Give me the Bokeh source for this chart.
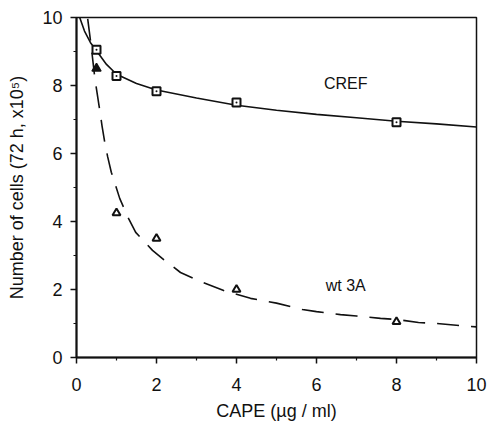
from bokeh.plotting import figure
from bokeh.models import Range1d, FixedTicker, Label
from bokeh.embed import file_html
from bokeh.resources import INLINE

# Measured points
cref_x = [0.5, 1, 2, 4, 8]
cref_y = [9.05, 8.28, 7.83, 7.5, 6.92]
wt_x = [0.5, 1, 2, 4, 8]
wt_y = [8.5, 4.25, 3.5, 2.0, 1.05]

# Fitted curves
cref_fit_x = [0.08, 0.2, 0.35, 0.5, 0.75, 1.0, 1.5, 2.0, 3.0, 4.0, 5.0, 6.0, 7.0, 8.0, 9.0, 10.0]
cref_fit_y = [10.0, 9.6, 9.26, 9.02, 8.62, 8.33, 8.06, 7.87, 7.63, 7.42, 7.27, 7.15, 7.05, 6.95, 6.87, 6.78]
wt_fit_x = [0.28, 0.37, 0.46, 0.57, 0.64, 0.71, 0.78, 0.87, 0.98, 1.08, 1.3, 1.48, 1.9, 2.18, 2.6,
            3.05, 3.68, 4.0, 4.35, 5.0, 5.65, 6.0, 6.6, 7.0, 7.6, 8.0, 8.55, 9.0, 9.68, 10.0]
wt_fit_y = [9.96, 9.13, 8.2, 7.36, 6.8, 6.3, 5.9, 5.45, 5.05, 4.68, 4.09, 3.68, 3.15, 2.88, 2.5,
            2.26, 1.97, 1.86, 1.74, 1.6, 1.41, 1.35, 1.26, 1.22, 1.15, 1.12, 1.03, 1.0, 0.93, 0.9]

x_ticks = [0, 2, 4, 6, 8, 10]
y_ticks = [0, 2, 4, 6, 8, 10]

FONT = "Liberation Sans"
INK = "#111111"

p = figure(width=488, height=423, output_backend="svg", toolbar_location=None,
           x_range=Range1d(0, 10), y_range=Range1d(0, 10),
           min_border_left=76, min_border_right=12, min_border_top=17, min_border_bottom=66)
p.grid.visible = False
p.outline_line_color = INK
p.outline_line_width = 1.5
p.background_fill_color = "white"
p.border_fill_color = "white"

for ax, ticks in ((p.xaxis[0], x_ticks), (p.yaxis[0], y_ticks)):
    ax.ticker = FixedTicker(ticks=ticks, minor_ticks=[1, 3, 5, 7, 9])
    ax.axis_line_color = INK
    ax.axis_line_width = 2
    ax.major_tick_line_color = INK
    ax.minor_tick_line_color = INK
    ax.major_tick_line_width = 1.5
    ax.minor_tick_line_width = 1.2
    ax.major_tick_out = 6
    ax.major_tick_in = 0
    ax.minor_tick_out = 3
    ax.minor_tick_in = 0
    ax.major_label_text_font = FONT
    ax.major_label_text_font_size = "18px"
    ax.major_label_text_color = INK
    ax.axis_label_text_font = FONT
    ax.axis_label_text_font_size = "18px"
    ax.axis_label_text_font_style = "normal"
    ax.axis_label_text_color = INK

p.xaxis.axis_label = "CAPE (µg / ml)"
p.xaxis.major_label_standoff = 14
p.xaxis.axis_label_standoff = 7
p.yaxis.axis_label = "Number of cells (72 h, x10⁵)"
p.yaxis.major_label_standoff = 8
p.yaxis.axis_label_standoff = 12

# fitted curves
p.line(cref_fit_x, cref_fit_y, line_color=INK, line_width=1.6)
p.line(wt_fit_x, wt_fit_y, line_color=INK, line_width=1.6, line_dash="22 12")

# data points
p.scatter(cref_x, cref_y, marker="square_dot", size=8, line_color=INK, line_width=2,
          fill_color="white")
p.scatter(wt_x[1:], wt_y[1:], marker="triangle", size=8, line_color=INK, line_width=2,
          fill_color="white")
p.scatter(wt_x[:1], wt_y[:1], marker="triangle", size=9, line_color=INK, line_width=1.5,
          fill_color=INK)

p.add_layout(Label(x=6.73, y=8.06, text="CREF", text_font=FONT, text_font_size="16px",
                   text_align="center", text_baseline="middle", text_color=INK))
p.add_layout(Label(x=6.73, y=2.12, text="wt 3A", text_font=FONT, text_font_size="16px",
                   text_align="center", text_baseline="middle", text_color=INK))

open("out.html", "w").write(file_html(p, INLINE))
